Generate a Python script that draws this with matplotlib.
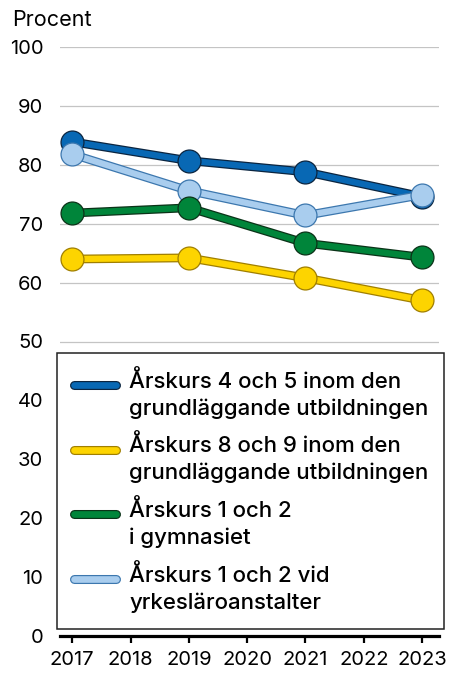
import matplotlib
matplotlib.use("Agg")
import matplotlib.pyplot as plt
import matplotlib.patheffects as pe
from matplotlib.lines import Line2D
from matplotlib.legend_handler import HandlerLine2D

years = [2017, 2019, 2021, 2023]
tick_years = [2017, 2018, 2019, 2020, 2021, 2022, 2023]
labels = [
    "Årskurs 4 och 5 inom den\ngrundläggande utbildningen",
    "Årskurs 8 och 9 inom den\ngrundläggande utbildningen",
    "Årskurs 1 och 2\ni gymnasiet",
    "Årskurs 1 och 2 vid\nyrkesläroanstalter",
]
grade_4_5 = [83.9, 80.7, 78.8, 74.6]
grade_8_9 = [64.0, 64.2, 60.8, 57.0]
gymnasium = [71.8, 72.7, 66.7, 64.3]
vocational = [81.8, 75.6, 71.4, 74.9]

series = [grade_4_5, grade_8_9, gymnasium, vocational]
fills = ["#0868b4", "#fdd400", "#00853a", "#a9cdee"]
edges = ["#0b2540", "#a07f00", "#0b3318", "#3c77ae"]
zorders = [3, 6, 5, 4]

plt.rcParams['font.family'] = ['Inter', 'DejaVu Sans']


class TopLineHandler(HandlerLine2D):
    def create_artists(self, legend, orig_handle, xdescent, ydescent,
                       width, height, fontsize, trans):
        artists = super().create_artists(legend, orig_handle, xdescent, ydescent,
                                         width, height, fontsize, trans)
        for a in artists:
            y = a.get_ydata()
            a.set_ydata([v + 0.42 * fontsize for v in y])
        return artists


fig = plt.figure(figsize=(4.52, 6.78), dpi=100)
ax = fig.add_axes([60/452, 1-636/678, 379/452, 589/678])
ax.set_xlim(2016.79, 2023.29)
ax.set_ylim(0, 100)

for y in range(10, 101, 10):
    ax.axhline(y, color="#c4c4c4", lw=0.9, zorder=1)

for i in range(4):
    ax.plot(years, series[i], color=fills[i], lw=4.5, solid_capstyle='round',
            solid_joinstyle='round', zorder=zorders[i],
            path_effects=[pe.Stroke(linewidth=6.3, foreground=edges[i]), pe.Normal()])
    ax.plot(years, series[i], linestyle='none', marker='o', markersize=16.5,
            markerfacecolor=fills[i], markeredgecolor=edges[i], markeredgewidth=0.9,
            zorder=zorders[i] + 0.5)

for s in ['top', 'right', 'left']:
    ax.spines[s].set_visible(False)
ax.spines['bottom'].set_linewidth(2.3)
ax.spines['bottom'].set_color('black')
ax.set_xticks(tick_years)
ax.set_xticklabels([str(y) for y in tick_years])
ax.set_yticks(range(0, 101, 10))
ax.tick_params(axis='x', length=5, width=1.6, color='black', labelsize=14.5, pad=6)
ax.tick_params(axis='y', length=0, labelsize=14.5, pad=12)

fig.text(12/452, 1-20/678, "Procent", fontsize=15.5, ha='left', va='center')

handles = [Line2D([0], [0], color=fills[i], lw=4.8, solid_capstyle='round',
                  path_effects=[pe.Stroke(linewidth=6.5, foreground=edges[i]), pe.Normal()])
           for i in range(4)]
leg = ax.legend(handles, labels, loc='upper left',
                bbox_to_anchor=(57/452, 1-630/678, 387/452, 277/678),
                bbox_transform=fig.transFigure, mode='expand',
                prop={'size': 16, 'weight': 500}, frameon=True, fancybox=False,
                framealpha=1, handlelength=1.9, handletextpad=0.6,
                labelspacing=0.7, borderpad=0.75, borderaxespad=0,
                handler_map={Line2D: TopLineHandler()})
for t in leg.get_texts():
    t.set_linespacing(1.4)
leg.get_frame().set_edgecolor('#222222')
leg.get_frame().set_linewidth(1.1)
leg.set_zorder(10)

fig.savefig("out.png", dpi=100)
